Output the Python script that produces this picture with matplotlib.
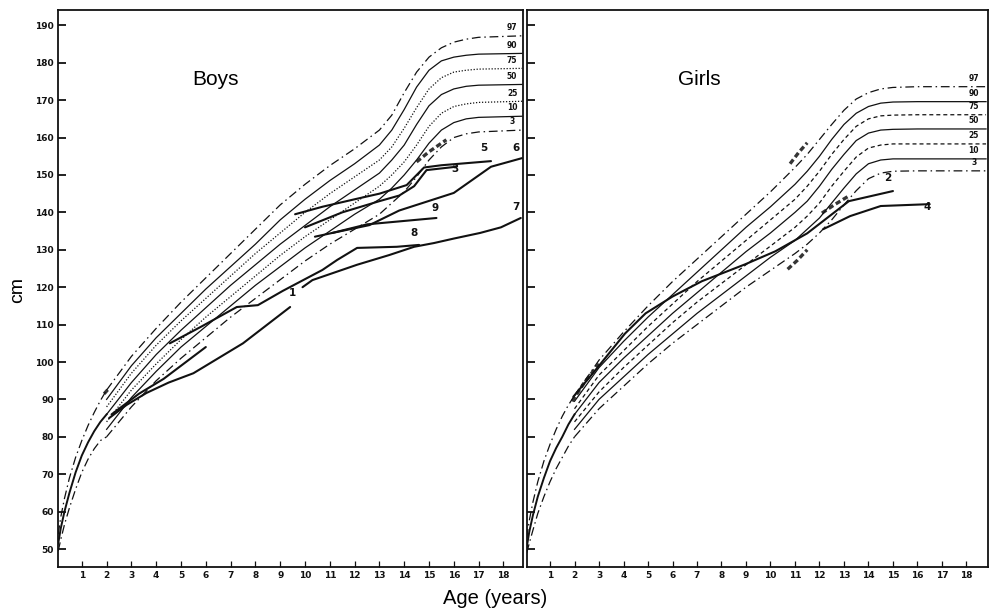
import matplotlib
matplotlib.use('Agg')
import matplotlib.pyplot as plt

# ---------------- data ----------------
pct_labels = ['97', '90', '75', '50', '25', '10', '3']

# infant part (only 97, 50, 3 drawn below age 2)
boys_inf_age = [0.05, 0.15, 0.3, 0.5, 0.75, 1.0, 1.25, 1.5, 1.75, 2.0]
boys_inf_97 = [54, 58.5, 63.5, 69, 74.5, 79, 83, 86.5, 89.7, 92.5]
boys_inf_50 = [51.5, 55.5, 60, 65, 70.5, 75, 78.5, 81.5, 84, 86]
boys_inf_3 = [49.5, 52.5, 56.5, 61, 66, 70.5, 74, 76.8, 79, 80]

boys_age = [2, 3, 4, 5, 6, 7, 8, 9, 10, 11, 12, 13, 13.5, 14, 14.5, 15, 15.5, 16, 16.5, 17, 18.75]
boys_97 = [92.5, 101.5, 109, 116, 122.5, 129, 135.5, 142, 147.5, 152.5, 157, 162, 166, 172, 177.5, 181.5, 184, 185.5, 186.3, 186.8, 187.2]
boys_90 = [90, 99, 106.5, 113, 119.5, 125.5, 131.5, 138, 143.5, 148.5, 153, 158, 162, 167.5, 173.5, 178, 180.5, 181.5, 182, 182.3, 182.5]
boys_75 = [88, 97, 104.5, 111, 117, 123, 129, 134.5, 140, 145, 149.5, 154, 157.5, 162.5, 168, 173, 176, 177.5, 178, 178.3, 178.5]
boys_50 = [86, 94.5, 102, 108.5, 114.5, 120.5, 126, 131.5, 136.5, 141.5, 146, 150.5, 154, 158, 163.5, 168.5, 171.5, 173, 173.7, 174, 174.2]
boys_25 = [84, 92.5, 99.5, 106, 112, 117.5, 123, 128.5, 133.5, 138, 142.5, 147, 150, 153.5, 158, 163, 166.5, 168.3, 169, 169.4, 169.7]
boys_10 = [82, 90.5, 97.5, 104, 109.5, 115, 120.5, 125.5, 130.5, 135, 139.5, 143.5, 146.5, 150, 154, 158.5, 162, 164, 165, 165.4, 165.7]
boys_3 = [80, 88, 95, 101, 106.5, 112, 117, 122, 127, 131.5, 135.5, 139.5, 142.5, 145.5, 149.5, 154, 157.5, 160, 161, 161.5, 162]

girls_inf_age = [0.05, 0.15, 0.3, 0.5, 0.75, 1.0, 1.25, 1.5, 1.75, 2.0]
girls_inf_97 = [53, 57.5, 62.5, 68, 73.5, 78, 82, 85.5, 88.5, 91]
girls_inf_50 = [50.5, 54.5, 59, 64, 69, 73.5, 77, 80, 83.3, 86]
girls_inf_3 = [49, 51.5, 55, 59.5, 64, 68, 71.5, 74.5, 77.5, 80]

girls_age = [2, 3, 4, 5, 6, 7, 8, 9, 10, 11, 11.5, 12, 12.5, 13, 13.5, 14, 14.5, 15, 16, 18.8]
girls_97 = [91, 100.5, 108, 115, 121.5, 127.5, 133.5, 139.5, 145.5, 152, 155.5, 159.5, 163.5, 167.3, 170.3, 172, 173, 173.4, 173.6, 173.6]
girls_90 = [89.5, 98.5, 105.5, 112, 118, 124, 130, 136, 141.5, 147.5, 151, 155, 159.5, 163.5, 166.5, 168.3, 169.2, 169.5, 169.6, 169.6]
girls_75 = [87.5, 96.5, 103, 109.5, 115.5, 121.5, 127, 132.5, 138, 143.5, 147, 151, 155.5, 159.5, 163, 165, 165.8, 166, 166.1, 166.1]
girls_50 = [86, 94.5, 101, 107, 113, 118.5, 124, 129.5, 134.5, 140, 143, 147, 151.5, 155.5, 159.2, 161.2, 162, 162.2, 162.3, 162.3]
girls_25 = [84, 92, 98.5, 104.5, 110.5, 116, 121, 126, 131, 136, 139, 142.5, 147, 151, 154.8, 157.2, 158, 158.3, 158.3, 158.3]
girls_10 = [82, 90, 96, 102, 107.5, 113, 118, 123, 128, 132.5, 135.5, 138.5, 142.5, 146.5, 150.3, 153, 154, 154.3, 154.3, 154.3]
girls_3 = [80, 87.5, 93.5, 99.5, 105, 110, 115, 120, 124.5, 129, 131.5, 134.5, 138, 142, 145.8, 149, 150.5, 151, 151.1, 151.1]

# individual patients (boys)
p1_age = [2.1, 2.8, 3.6, 4.5, 5.5, 7.5, 9.4]
p1_cm = [85, 88.5, 91.7, 94.5, 97, 105, 114.7]
pc_age = [2.2, 3.3, 4.3, 5.2, 6.0]
pc_cm = [86, 91.5, 95.5, 100, 104]
p8_age = [4.55, 5.8, 7.25, 8.1, 9.1, 10.7, 11.3, 12.1, 13.7, 14.6]
p8_cm = [105, 109.4, 114.7, 115.2, 119, 124.6, 127.3, 130.5, 130.8, 131.3]
p7_age = [9.9, 10.3, 12.1, 13.4, 14.4, 15.2, 16.0, 17.06, 17.9, 18.7]
p7_cm = [120, 121.9, 126, 128.6, 130.8, 131.8, 133, 134.5, 136, 138.5]
p6_age = [10.4, 11.1, 12.6, 13.8, 16.0, 17.5, 18.75]
p6_cm = [133.5, 134.5, 136.6, 140.5, 145.2, 152.2, 154.5]
p9_age = [11.1, 12.5, 15.3]
p9_cm = [134.5, 136.8, 138.5]
p5_age = [9.6, 10.7, 12.0, 13.0, 14.1, 14.8, 15.5, 17.5]
p5_cm = [139.5, 141.5, 143.5, 145, 147.3, 152, 152.6, 153.7]
p3_age = [10.0, 11.5, 13.0, 13.8, 14.4, 14.9, 16.1]
p3_cm = [136, 140, 143, 144.5, 147, 151.3, 152.2]

# individual patients (girls)
p2_age = [1.95, 3.0, 4.06, 4.9, 6.0, 7.2, 8.96, 10.2, 11.5, 13.2, 15.0]
p2_cm = [90.7, 99, 107.6, 113, 117.5, 121.6, 126.1, 129.6, 134.4, 143, 145.7]
p4_age = [12.15, 13.25, 14.5, 16.5]
p4_cm = [135.5, 139, 141.7, 142.2]

# hatched (thick broken) data-point segments
boys_hatch = [([14.5, 15.0, 15.7], [153.5, 156.2, 159.4]),
              ([1.9, 2.1], [91.5, 93.0])]
girls_hatch = [([10.8, 11.15, 11.5], [153.0, 156.0, 158.6]),
               ([12.1, 12.6, 13.2], [139.8, 142.0, 144.4]),
               ([10.7, 11.1, 11.5], [124.8, 127.2, 130.0]),
               ([1.9, 2.4, 3.0], [89.5, 94.5, 99.5])]

boys_patient_labels = [('1', 9.5, 117.2), ('3', 16.05, 150.2), ('5', 17.2, 156.0),
                       ('6', 18.5, 156.0), ('7', 18.5, 140.2), ('8', 14.4, 133.2),
                       ('9', 15.25, 139.8)]
girls_patient_labels = [('2', 14.8, 147.8), ('4', 16.4, 140.0)]

y_ticks = list(range(50, 200, 10))
x_ticks = list(range(1, 19))

# ---------------- style ----------------
INK = '#111111'
dashdot = (0, (7, 3, 1.2, 3))
dotted = (0, (1, 1.4))
dashed = (0, (3.2, 2.4))
hatch = (0, (1.6, 0.9))

fig = plt.figure(figsize=(9.9, 6.12), dpi=100)
axL = fig.add_axes([58 / 990, 1 - 567 / 612, (523 - 58) / 990, (567 - 10) / 612])
axR = fig.add_axes([527 / 990, 1 - 567 / 612, (988 - 527) / 990, (567 - 10) / 612])


def setup(ax, xlim, show_y):
    ax.set_xlim(*xlim)
    ax.set_ylim(45.2, 194.1)
    ax.set_yticks(y_ticks)
    ax.set_xticks(x_ticks)
    ax.tick_params(axis='y', direction='in', length=6, width=1.3, color=INK,
                   labelsize=6.5, pad=3, labelleft=show_y)
    ax.tick_params(axis='x', direction='in', length=4, width=0.9, color=INK,
                   labelsize=6.5, pad=3)
    for lab in ax.get_xticklabels() + ax.get_yticklabels():
        lab.set_fontweight('bold')
        lab.set_color(INK)
    for s in ax.spines.values():
        s.set_linewidth(1.3)
        s.set_color(INK)


setup(axL, (0.04, 18.79), True)
setup(axR, (0.06, 18.88), False)

# boys percentiles
b_series = [boys_97, boys_90, boys_75, boys_50, boys_25, boys_10, boys_3]
b_styles = [dashdot, '-', dotted, '-', dotted, '-', dashdot]
for vals, ls in zip(b_series, b_styles):
    axL.plot(boys_age, vals, color=INK, lw=0.9, ls=ls)
for inf, ls, lw in [(boys_inf_97, dashdot, 0.9), (boys_inf_50, '-', 1.4), (boys_inf_3, dashdot, 0.9)]:
    axL.plot(boys_inf_age, inf, color=INK, lw=lw, ls=ls)
for lab, vals in zip(pct_labels, b_series):
    axL.text(18.35, vals[-1] + 1.0, lab, fontsize=5.5, fontweight='bold',
             ha='center', va='bottom', color=INK)

# girls percentiles
g_series = [girls_97, girls_90, girls_75, girls_50, girls_25, girls_10, girls_3]
g_styles = [dashdot, '-', dashed, '-', dashed, '-', dashdot]
for vals, ls in zip(g_series, g_styles):
    axR.plot(girls_age, vals, color=INK, lw=0.9, ls=ls)
for inf, ls, lw in [(girls_inf_97, dashdot, 0.9), (girls_inf_50, '-', 1.4), (girls_inf_3, dashdot, 0.9)]:
    axR.plot(girls_inf_age, inf, color=INK, lw=lw, ls=ls)
for lab, vals in zip(pct_labels, g_series):
    axR.text(18.3, vals[-1] + 1.0, lab, fontsize=5.5, fontweight='bold',
             ha='center', va='bottom', color=INK)

# patients
for a, c in [(p1_age, p1_cm), (pc_age, pc_cm), (p8_age, p8_cm), (p7_age, p7_cm),
             (p6_age, p6_cm), (p9_age, p9_cm), (p5_age, p5_cm), (p3_age, p3_cm)]:
    axL.plot(a, c, color=INK, lw=1.5, solid_capstyle='round')
for a, c in [(p2_age, p2_cm), (p4_age, p4_cm)]:
    axR.plot(a, c, color=INK, lw=1.5, solid_capstyle='round')
for a, c in boys_hatch:
    axL.plot(a, c, color=INK, lw=2.4, ls=hatch, alpha=0.85)
for a, c in girls_hatch:
    axR.plot(a, c, color=INK, lw=2.4, ls=hatch, alpha=0.85)
for lab, x, y in boys_patient_labels:
    axL.text(x, y, lab, fontsize=7.5, fontweight='bold', ha='center', va='bottom', color=INK)
for lab, x, y in girls_patient_labels:
    axR.text(x, y, lab, fontsize=7.5, fontweight='bold', ha='center', va='bottom', color=INK)

# titles / labels
axL.text(6.4, 175.5, 'Boys', fontsize=15, ha='center', va='center', family='Liberation Sans')
axR.text(7.1, 175.5, 'Girls', fontsize=15, ha='center', va='center', family='Liberation Sans')
fig.text(18 / 990, 1 - 290 / 612, 'cm', rotation=90, fontsize=14, ha='center', va='center',
         family='Liberation Sans')
fig.text(495 / 990, 1 - 599 / 612, 'Age (years)', fontsize=14.5, ha='center', va='center',
         family='Liberation Sans')

fig.savefig('out.png', dpi=100, facecolor='white')
